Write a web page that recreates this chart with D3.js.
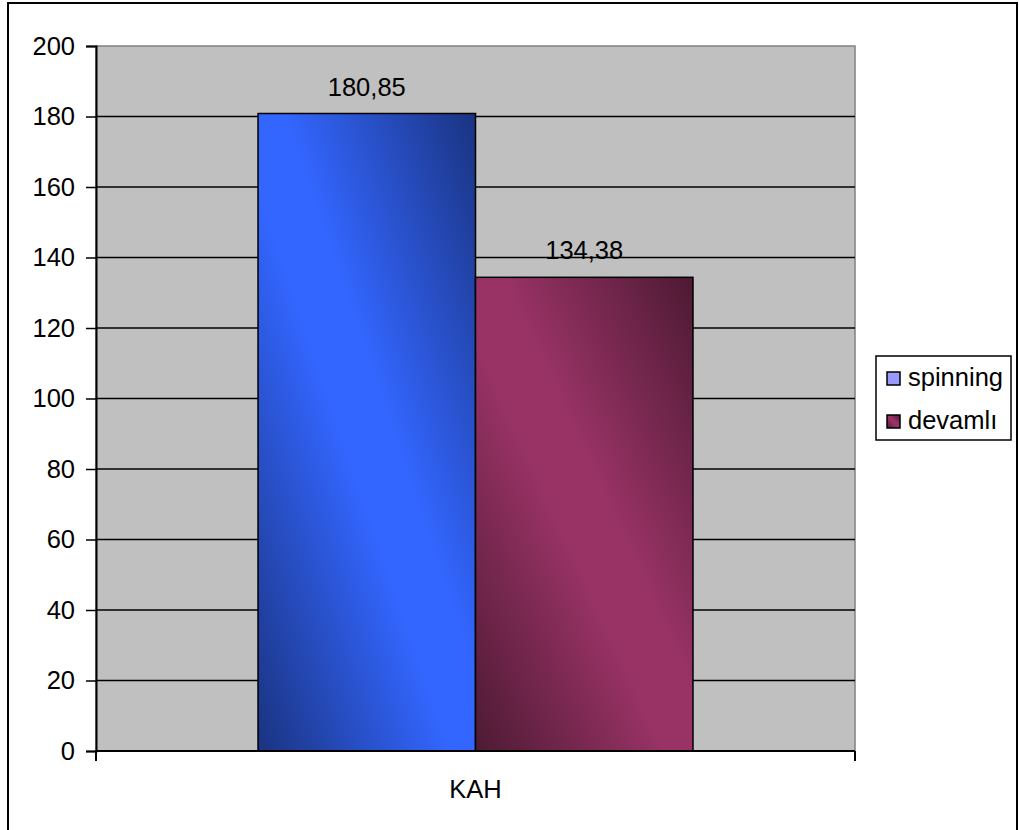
<!DOCTYPE html>
<html>
<head>
<meta charset="utf-8">
<script src="https://cdn.jsdelivr.net/npm/d3@7"></script>
<style>
  html, body { margin: 0; padding: 0; background: #ffffff; }
  svg { display: block; font-family: "Liberation Sans", Arial, sans-serif; }
</style>
</head>
<body>
<svg id="chart" width="1019" height="830"></svg>
<script>
// Chart data
const categories = ["KAH"];
const seriesNames = ["spinning", "devamlı"];
const spinningValues = [180.85];
const devamliValues = [134.38];
const yTickValues = [0, 20, 40, 60, 80, 100, 120, 140, 160, 180, 200];

// Series styling: bright and dark tones used in each bar's diagonal shading
const seriesStyle = [
  { light: "#3366ff", dark: "#1a3380", swatch: "#9999ff" },
  { light: "#993366", dark: "#4d1a33", swatch: null }
];

const seriesData = [spinningValues, devamliValues];
const fmt = v => v.toFixed(2).replace(".", ",");
const FONT = 25.5;

const svg = d3.select("#chart");
const plot = { left: 96, right: 855, top: 46, bottom: 751 };

// Outer chart frame (its lower edge runs past the bottom of the canvas)
svg.append("rect")
  .attr("x", 8).attr("y", 3)
  .attr("width", 1009).attr("height", 832)
  .attr("fill", "#ffffff")
  .attr("stroke", "#000").attr("stroke-width", 2);

// Gradients: dark in the lower-left corner, bright across the diagonal, dark top-right
const defs = svg.append("defs");
seriesStyle.forEach((s, i) => {
  const g = defs.append("linearGradient")
    .attr("id", "grad" + i)
    .attr("x1", 0).attr("y1", 1).attr("x2", 1).attr("y2", 0);
  g.append("stop").attr("offset", 0).attr("stop-color", s.dark);
  g.append("stop").attr("offset", 0.44).attr("stop-color", s.light);
  g.append("stop").attr("offset", 0.56).attr("stop-color", s.light);
  g.append("stop").attr("offset", 1).attr("stop-color", s.dark);
});

// Scales
const x0 = d3.scaleBand()
  .domain(categories)
  .range([plot.left, plot.right])
  .paddingInner(0)
  .paddingOuter(0.3725);
const x1 = d3.scaleBand()
  .domain(seriesNames)
  .range([0, x0.bandwidth()]);
const y = d3.scaleLinear().domain([0, 200]).range([plot.bottom, plot.top]);

// Plot area background
svg.append("rect")
  .attr("x", plot.left).attr("y", plot.top)
  .attr("width", plot.right - plot.left)
  .attr("height", plot.bottom - plot.top)
  .attr("fill", "#c0c0c0")
  .attr("stroke", "#808080").attr("stroke-width", 1.5);

// Horizontal gridlines
svg.append("g")
  .selectAll("line")
  .data(yTickValues.filter(v => v > 0 && v < 200))
  .join("line")
  .attr("x1", plot.left).attr("x2", plot.right)
  .attr("y1", d => y(d)).attr("y2", d => y(d))
  .attr("stroke", "#000").attr("stroke-width", 1.3);

// Bars with value labels
categories.forEach((cat, ci) => {
  const g = svg.append("g").attr("transform", `translate(${x0(cat)},0)`);
  seriesNames.forEach((name, si) => {
    const v = seriesData[si][ci];
    g.append("rect")
      .attr("x", x1(name))
      .attr("y", y(v))
      .attr("width", x1.bandwidth())
      .attr("height", y(0) - y(v))
      .attr("fill", `url(#grad${si})`)
      .attr("stroke", "#000").attr("stroke-width", 1.5);
    g.append("text")
      .attr("x", x1(name) + x1.bandwidth() / 2)
      .attr("y", y(v) - 18)
      .attr("text-anchor", "middle")
      .attr("font-size", FONT)
      .attr("fill", "#000")
      .text(fmt(v));
  });
});

// Y axis
const yAxis = svg.append("g")
  .attr("transform", `translate(${plot.left},0)`)
  .call(d3.axisLeft(y).tickValues(yTickValues).tickSize(10).tickPadding(11).tickFormat(d3.format("d")));
yAxis.select(".domain").attr("stroke", "#000").attr("stroke-width", 2);
yAxis.selectAll(".tick line").attr("stroke", "#000").attr("stroke-width", 1.5);
yAxis.selectAll(".tick text")
  .attr("font-size", FONT)
  .attr("font-family", "Liberation Sans, Arial, sans-serif")
  .attr("fill", "#000");

// X axis: tick marks at category boundaries, label centered in band
const xAxis = svg.append("g")
  .attr("transform", `translate(0,${plot.bottom})`);
xAxis.append("line")
  .attr("x1", plot.left).attr("x2", plot.right)
  .attr("stroke", "#000").attr("stroke-width", 2);
xAxis.selectAll("line.tick")
  .data([plot.left, plot.right])
  .join("line")
  .attr("class", "tick")
  .attr("x1", d => d).attr("x2", d => d)
  .attr("y1", 0).attr("y2", 10)
  .attr("stroke", "#000").attr("stroke-width", 2);
xAxis.selectAll("text")
  .data(categories)
  .join("text")
  .attr("x", d => x0(d) + x0.bandwidth() / 2)
  .attr("y", 47)
  .attr("text-anchor", "middle")
  .attr("font-size", FONT)
  .attr("fill", "#000")
  .text(d => d);

// Legend
const legend = svg.append("g");
legend.append("rect")
  .attr("x", 876).attr("y", 356)
  .attr("width", 135).attr("height", 84)
  .attr("fill", "#fff")
  .attr("stroke", "#000").attr("stroke-width", 1.5);
seriesNames.forEach((name, i) => {
  const baseY = 386 + i * 43;
  legend.append("rect")
    .attr("x", 887).attr("y", baseY - 14)
    .attr("width", 13).attr("height", 13)
    .attr("fill", seriesStyle[i].swatch || `url(#grad${i})`)
    .attr("stroke", "#000").attr("stroke-width", 1.5);
  legend.append("text")
    .attr("x", 908).attr("y", baseY)
    .attr("font-size", FONT)
    .attr("fill", "#000")
    .text(name);
});
</script>
</body>
</html>
